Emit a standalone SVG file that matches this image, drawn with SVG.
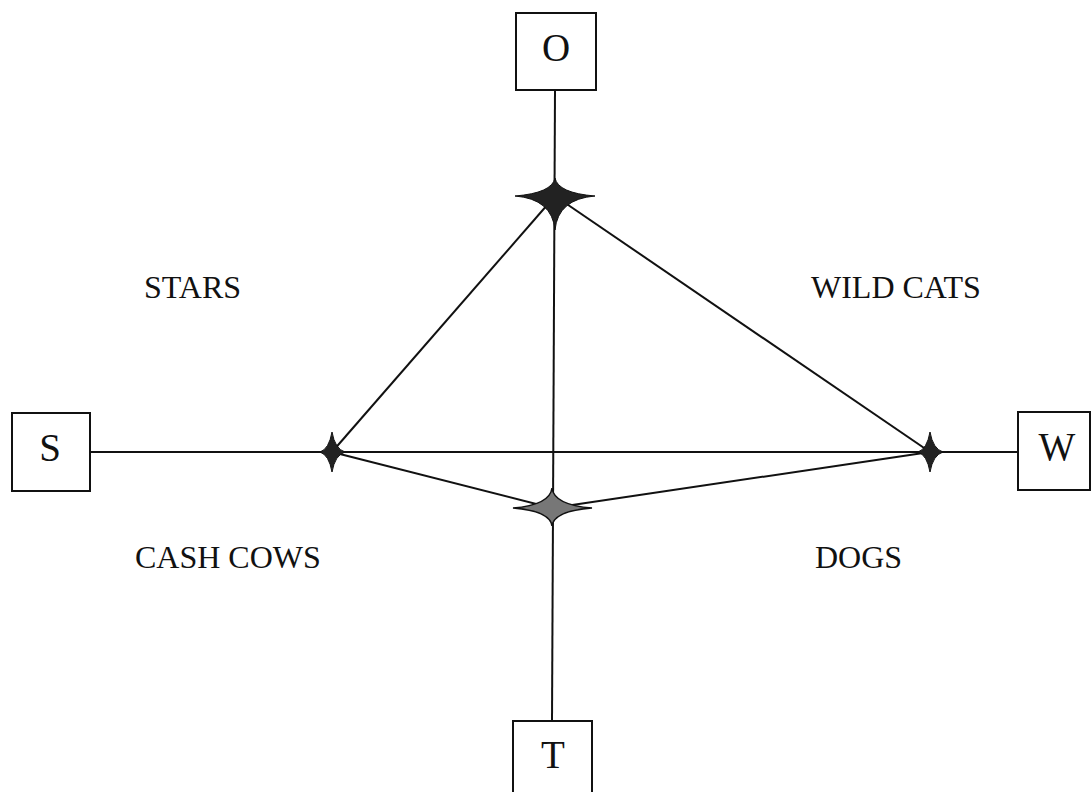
<svg xmlns="http://www.w3.org/2000/svg" width="1091" height="792" viewBox="0 0 1091 792">
  <style>
    .box { fill: #fff; stroke: #111; stroke-width: 2; }
    .boxlabel { font-family: "Liberation Serif", "Times New Roman", serif; font-size: 39px; fill: #111; text-anchor: middle; }
    .quad { font-family: "Liberation Serif", "Times New Roman", serif; font-size: 32px; fill: #111; }
    .edge { stroke: #111; stroke-width: 2; fill: none; }
    .star { fill: #222; stroke: #111; stroke-width: 1; }
    .star-open { fill: #777; stroke: #111; stroke-width: 1.5; }
  </style>
  <rect width="1091" height="792" fill="#fff"/>

  <g id="connectors">
    <line class="edge" x1="555" y1="90" x2="552" y2="721"/>
    <line class="edge" x1="90" y1="452" x2="332" y2="452"/>
    <line class="edge" x1="930" y1="452" x2="1018" y2="452"/>
    <line class="edge" x1="555" y1="196" x2="332" y2="452"/>
    <line class="edge" x1="555" y1="196" x2="930" y2="452"/>
    <line class="edge" x1="332" y1="452" x2="930" y2="452"/>
    <line class="edge" x1="332" y1="452" x2="552" y2="508"/>
    <line class="edge" x1="552" y1="508" x2="930" y2="452"/>
  </g>

  <g id="junctions">
    <path id="star-top" class="star" d="M555,178 Q558,193 595,196 Q558,199 555,230 Q552,199 515,196 Q552,193 555,178 Z"/>
    <path id="star-left" class="star" d="M332,432 Q335,449 345,452 Q335,455 332,472 Q329,455 320,452 Q329,449 332,432 Z"/>
    <path id="star-right" class="star" d="M930,432 Q933,449 943,452 Q933,455 930,472 Q927,455 918,452 Q927,449 930,432 Z"/>
    <path id="star-bottom" class="star-open" d="M552,488 Q554,505 592,508 Q554,511 552,526 Q550,511 513,508 Q550,505 552,488 Z"/>
  </g>

  <g id="node-O">
    <rect class="box" x="516" y="13" width="80" height="77"/>
    <text class="boxlabel" x="556" y="61">O</text>
  </g>
  <g id="node-S">
    <rect class="box" x="12" y="413" width="78" height="78"/>
    <text class="boxlabel" x="50" y="461">S</text>
  </g>
  <g id="node-W">
    <rect class="box" x="1018" y="412" width="72" height="78"/>
    <text class="boxlabel" x="1057" y="460">W</text>
  </g>
  <g id="node-T">
    <rect class="box" x="513" y="721" width="79" height="80"/>
    <text class="boxlabel" x="553" y="768">T</text>
  </g>

  <g id="quadrant-labels">
    <text class="quad" x="144" y="298">STARS</text>
    <text class="quad" x="811" y="298">WILD CATS</text>
    <text class="quad" x="135" y="568">CASH COWS</text>
    <text class="quad" x="815" y="568">DOGS</text>
  </g>
</svg>
